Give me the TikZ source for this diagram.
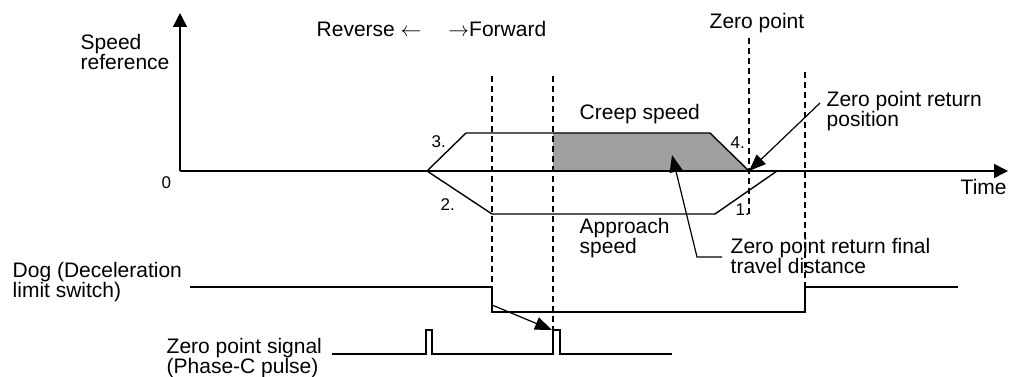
\documentclass[tikz,border=0pt]{standalone}
\usepackage{fontspec}
\setmainfont{Liberation Sans}
\usetikzlibrary{arrows.meta}
\definecolor{creepfill}{RGB}{160,160,160}
\begin{document}
\begin{tikzpicture}[x=1pt,y=-1pt,
  line width=1.4pt, line join=miter,
  lbl/.style={inner sep=0pt, anchor=base west, font=\fontsize{21}{20}\selectfont, align=left},
  num/.style={inner sep=0pt, anchor=base west, font=\fontsize{17}{17}\selectfont},
  guide/.style={line width=1.2pt, dash pattern=on 6pt off 4pt},
  axisarrow/.style={-{Triangle[length=14pt,width=14pt]}},
  ptr/.style={-{Triangle[length=17pt,width=13pt]}, line width=1.2pt}
]
\useasboundingbox (0,0) rectangle (1013,377);

% key coordinates
\coordinate (O) at (180,171);
\coordinate (Ytop) at (180,13);
\coordinate (Xend) at (1008,171);
\coordinate (zp) at (749,171);

% creep area
\fill[creepfill] (553,133) -- (710,133) -- (zp) -- (553,171) -- cycle;

% axes
\draw[axisarrow] (O) -- (Ytop);
\draw[axisarrow] (O) -- (Xend);

% speed profile
\draw (427,171) -- (466,133) -- (710,133) -- (zp);
\draw (427,171) -- (492,214) -- (715,214) -- (777,171);

% dashed guides
\draw[guide] (492,76) -- (492,287);
\draw[guide] (553,76) -- (553,330);
\draw[guide] (749,38) -- (749,215);
\draw[guide] (805,72) -- (805,287);

% dog signal
\draw (190,287) -- (492,287) -- (492,312) -- (805,312) -- (805,287) -- (958,287);
\coordinate (dogfall) at (492,305);
\coordinate (pulse2) at (552,330);
\draw[ptr] (dogfall) -- (pulse2);

% zero point signal
\draw (332,354) -- (426,354) -- (426,330) -- (432,330) -- (432,354) -- (553,354)
      -- (553,330) -- (560,330) -- (560,354) -- (672,354);

% labels (multi-line nodes: base = last line)
\node[lbl] (speedref) at (80,70) {Speed\\reference};
\node[num] (zero) at (161,189) {0};
\node[lbl] (dir) at (316,37) {Reverse $\leftarrow$\hspace{27pt}$\rightarrow$Forward};
\node[lbl] (zeropoint) at (709,29) {Zero point};
\node[lbl] (creep) at (579,120) {Creep speed};
\node[lbl] (zpr) at (826,127) {Zero point return\\position};
\node[num] (n4) at (730,149) {4.};
\node[num] (n3) at (431,148) {3.};
\node[num] (n2) at (440,211) {2.};
\node[num] (n1) at (735,215) {1.};
\node[lbl] (approach) at (579,253) {Approach\\speed};
\node[lbl] (time) at (960,195) {Time};
\node[lbl] (final) at (730,273) {Zero point return final\\travel distance};
\node[lbl] (dog) at (12,297) {Dog (Deceleration\\limit switch)};
\node[lbl] (zsig) at (166,373) {Zero point signal\\(Phase-C pulse)};

% pointers
\coordinate (zprstart) at (820,103);
\draw[ptr] (zprstart) -- (zp);
\coordinate (finalA) at (722,257);
\coordinate (finalB) at (697,257);
\coordinate (areaPt) at (672,155);
\draw[ptr] (finalA) -- (finalB) -- (areaPt);
\end{tikzpicture}
\end{document}
